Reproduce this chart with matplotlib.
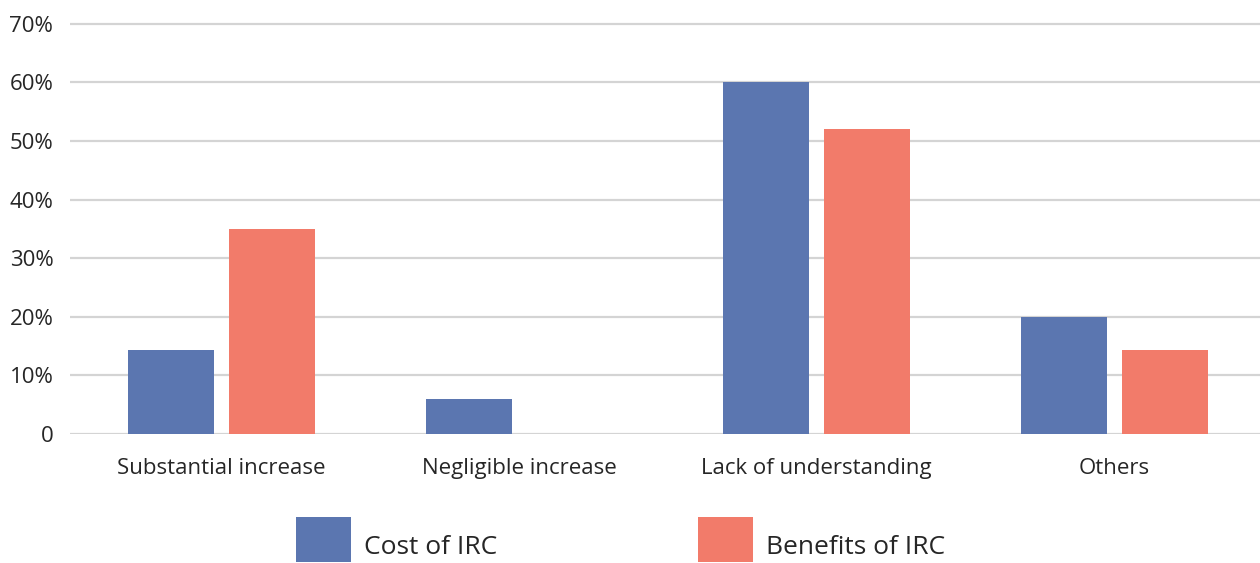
import matplotlib
matplotlib.use("Agg")
import matplotlib.pyplot as plt
import numpy as np
from matplotlib.patches import Patch

categories = ["Substantial increase", "Negligible increase", "Lack of understanding", "Others"]
cost_of_irc = [14.3, 6.0, 60.0, 20.0]
benefits_of_irc = [35.0, 0.0, 52.0, 14.3]
y_ticks = [0, 10, 20, 30, 40, 50, 60, 70]
y_tick_labels = ["0", "10%", "20%", "30%", "40%", "50%", "60%", "70%"]

BLUE = "#5B76B0"
SALMON = "#F27B6A"
TEXT = "#262626"
GRID = "#D4D4D4"

plt.rcParams["font.family"] = ["Open Sans", "DejaVu Sans"]

fig = plt.figure(figsize=(12.6, 5.63), dpi=100)
ax = fig.add_axes([70 / 1260, 1 - 434 / 563, 1 - 70 / 1260, (434 - 18) / 563])

x = np.arange(len(categories))
w = 0.29
off = 0.17
ax.bar(x - off, cost_of_irc, width=w, color=BLUE, zorder=3)
ax.bar(x + off, benefits_of_irc, width=w, color=SALMON, zorder=3)

ax.set_xlim(-0.51, len(categories) - 0.51)
ax.set_ylim(0, 71)
ax.set_yticks(y_ticks)
ax.set_yticklabels(y_tick_labels, fontsize=16, color=TEXT)
ax.set_xticks(x)
ax.set_xticklabels(categories, fontsize=16, color=TEXT)
ax.tick_params(axis="y", length=0, pad=12)
ax.tick_params(axis="x", length=0, pad=17.5)
ax.grid(axis="y", color=GRID, linewidth=1.6, zorder=0)
for s in ax.spines.values():
    s.set_visible(False)

handles = [Patch(facecolor=BLUE, label="Cost of IRC"),
           Patch(facecolor=SALMON, label="Benefits of IRC")]
leg = fig.legend(handles=handles, loc="lower left", bbox_to_anchor=(296 / 1260, 1 / 563),
                 ncol=2, frameon=False, fontsize=19, handlelength=2.08, handleheight=2.25,
                 handletextpad=0.5, columnspacing=7.6, borderpad=0, borderaxespad=0,
                 labelcolor=TEXT)
# sit the legend labels a little lower beside their swatches
for t in leg.get_texts():
    t.set_y(-6)

fig.savefig("out.png", dpi=100, facecolor="white")
